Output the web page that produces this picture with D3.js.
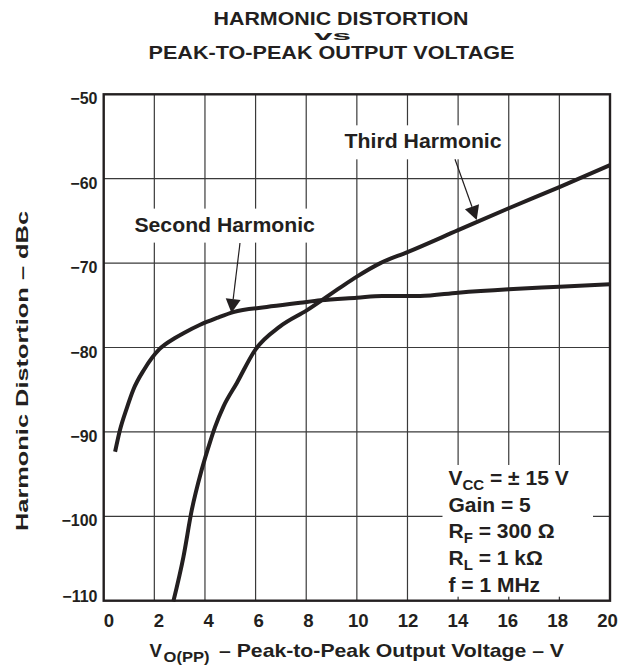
<!DOCTYPE html>
<html>
<head>
<meta charset="utf-8">
<script src="https://cdn.jsdelivr.net/npm/d3@7"></script>
<style>
  body { margin: 0; background: #fff; }
  text { font-family: "Liberation Sans", Arial, sans-serif; font-weight: bold; fill: #231f20; }
</style>
</head>
<body>
<div id="chart"></div>
<script>
// Тики осей
const xTicks = [0, 2, 4, 6, 8, 10, 12, 14, 16, 18, 20];
const yTicks = [-50, -60, -70, -80, -90, -100, -110];

// Вторая гармоника (В, дБн)
const secondVoltage = [0.45, 0.64, 0.91, 1.17, 1.6, 2.2, 2.8, 3.15, 3.81, 4.47, 5.12, 6.44, 7.76, 8.56, 10, 11, 12.5, 14, 16, 18, 20];
const secondDbc = [-92.35, -89.8, -87.2, -85.0, -82.6, -80.2, -78.9, -78.3, -77.3, -76.5, -75.8, -75.2, -74.7, -74.4, -74.1, -73.9, -73.9, -73.5, -73.1, -72.8, -72.5];

// Третья гармоника (В, дБн)
const thirdVoltage = [2.75, 3.15, 3.48, 3.87, 4.2, 4.4, 4.73, 5.26, 5.98, 6.97, 8.02, 9.34, 10.0, 10.93, 12, 14, 16, 18, 20];
const thirdDbc = [-110.1, -104.8, -99.25, -94.5, -91.2, -89.4, -87.0, -84.2, -80.3, -77.5, -75.6, -72.9, -71.6, -70.0, -68.7, -66.1, -63.5, -61.0, -58.4];

// Заголовок: строки, их левый край, базовая линия, ширина, кегль
const titleLines = ["HARMONIC DISTORTION", "vs", "PEAK-TO-PEAK OUTPUT VOLTAGE"];
const titleX = [213.5, 314, 148.5];
const titleY = [24.5, 39.8, 59.2];
const titleLen = [255, 37, 366];
const titleSize = [18.6, 12, 18.6];

// Условия измерения
const conditionLines = [
    [{ t: "V" }, { t: "CC", sub: true }, { t: " = \u00b1 15 V" }],
    [{ t: "Gain = 5" }],
    [{ t: "R" }, { t: "F", sub: true }, { t: " = 300 \u03a9" }],
    [{ t: "R" }, { t: "L", sub: true }, { t: " = 1 k\u03a9" }],
    [{ t: "f = 1 MHz" }]
];

const width = 620, height = 666;
const ink = "#231f20";

const x = d3.scaleLinear().domain([0, 20]).range([103.7, 610]);
const y = d3.scaleLinear().domain([-110, -50]).range([600.7, 94.3]);
const xLabel = d3.scaleLinear().domain([0, 20]).range([109, 607.5]);

const svg = d3.select("#chart").append("svg")
    .attr("width", width)
    .attr("height", height);

// Заголовок
svg.append("g").selectAll("text")
    .data(titleLines)
    .enter().append("text")
    .attr("x", (d, i) => titleX[i])
    .attr("y", (d, i) => titleY[i])
    .attr("font-size", (d, i) => titleSize[i])
    .attr("textLength", (d, i) => titleLen[i])
    .attr("lengthAdjust", "spacingAndGlyphs")
    .text(d => d);

// Сетка
const grid = svg.append("g").attr("stroke", "#3a3a3a").attr("stroke-width", 1.2);
grid.selectAll("line.v")
    .data(xTicks.slice(1, -1))
    .enter().append("line")
    .attr("x1", d => x(d)).attr("x2", d => x(d))
    .attr("y1", y(-50)).attr("y2", y(-110));
grid.selectAll("line.h")
    .data(yTicks.slice(1, -1))
    .enter().append("line")
    .attr("x1", x(0)).attr("x2", x(20))
    .attr("y1", d => y(d)).attr("y2", d => y(d));

const boxes = svg.append("g");
const layer = svg.append("g");

// Кривые
const line = d3.line()
    .x(d => x(d[0]))
    .y(d => y(d[1]))
    .curve(d3.curveMonotoneX);

const series = [
    d3.zip(secondVoltage, secondDbc),
    d3.zip(thirdVoltage, thirdDbc)
];

layer.selectAll("path.curve")
    .data(series)
    .enter().append("path")
    .attr("class", "curve")
    .attr("d", line)
    .attr("fill", "none")
    .attr("stroke", ink)
    .attr("stroke-width", 4)
    .attr("stroke-linejoin", "round");

// Подписи со стрелками
const callouts = [
    { text: "Second Harmonic", at: [1.213, -66.27], len: 180.5, from: [5.384, -67.62], to: [5.048, -75.91] },
    { text: "Third Harmonic", at: [9.516, -56.4], len: 157, from: [13.877, -57.7], to: [14.734, -64.89] }
];

callouts.forEach(c => {
    const t = layer.append("text")
        .attr("x", x(c.at[0])).attr("y", y(c.at[1]))
        .attr("font-size", 20.5)
        .attr("textLength", c.len).attr("lengthAdjust", "spacingAndGlyphs")
        .text(c.text);
    const b = t.node().getBBox();
    boxes.append("rect")
        .attr("x", b.x - 5).attr("y", b.y - 4)
        .attr("width", b.width + 10).attr("height", b.height + 11)
        .attr("fill", "#fff");

    const x0 = x(c.from[0]), y0 = y(c.from[1]);
    const x1 = x(c.to[0]), y1 = y(c.to[1]);
    const L = Math.hypot(x1 - x0, y1 - y0);
    const ux = (x1 - x0) / L, uy = (y1 - y0) / L;
    const head = 14, half = 7.5;
    const bx = x1 - ux * head, by = y1 - uy * head;
    layer.append("line")
        .attr("x1", x0).attr("y1", y0).attr("x2", bx).attr("y2", by)
        .attr("stroke", ink).attr("stroke-width", 1.2);
    layer.append("polygon")
        .attr("points", [[x1, y1], [bx - uy * half, by + ux * half], [bx + uy * half, by - ux * half]].join(" "))
        .attr("fill", ink);
});

// Блок условий
const cond = layer.append("g");
conditionLines.forEach((parts, i) => {
    const t = cond.append("text")
        .attr("x", x(13.62))
        .attr("y", y(-96.29) + i * 26.7)
        .attr("font-size", 21);
    parts.forEach(p => {
        t.append("tspan")
            .attr("font-size", p.sub ? 15 : 21)
            .attr("dy", p.sub ? 5 : (t.selectAll("tspan").size() > 1 ? -5 : 0))
            .text(p.t);
    });
});
const cb = cond.node().getBBox();
boxes.append("rect")
    .attr("x", cb.x - 6).attr("y", cb.y - 1)
    .attr("width", x(20) - 17 - (cb.x - 6))
    .attr("height", y(-110) - 4 - (cb.y - 1))
    .attr("fill", "#fff");

// Рамка
svg.append("rect")
    .attr("x", x(0)).attr("y", y(-50))
    .attr("width", x(20) - x(0)).attr("height", y(-110) - y(-50))
    .attr("fill", "none")
    .attr("stroke", ink)
    .attr("stroke-width", 2.4);

// Подписи тиков
svg.append("g").selectAll("text")
    .data(yTicks)
    .enter().append("text")
    .attr("x", 97.5)
    .attr("y", d => y(d) + (d === -110 ? 0.8 : 10))
    .attr("text-anchor", "end")
    .attr("font-family", "'DejaVu Sans', sans-serif")
    .attr("font-size", 16)
    .text(d => "\u2212" + Math.abs(d));

svg.append("g").selectAll("text")
    .data(xTicks)
    .enter().append("text")
    .attr("x", d => xLabel(d))
    .attr("y", 626.5)
    .attr("text-anchor", "middle")
    .attr("font-size", 18.6)
    .text(d => d);

// Подписи осей
svg.append("text")
    .attr("transform", "translate(27.5,531) rotate(-90)")
    .attr("font-size", 17)
    .attr("textLength", 320).attr("lengthAdjust", "spacingAndGlyphs")
    .text("Harmonic Distortion \u2013 dBc");

const xt = svg.append("g");
xt.append("text").attr("x", 149.5).attr("y", 656.7).attr("font-size", 18.6).text("V");
xt.append("text").attr("x", 163.5).attr("y", 661.5).attr("font-size", 15)
    .attr("textLength", 46).attr("lengthAdjust", "spacingAndGlyphs").text("O(PP)");
xt.append("text").attr("x", 219).attr("y", 656.7).attr("font-size", 18.6)
    .attr("textLength", 345).attr("lengthAdjust", "spacingAndGlyphs")
    .text("\u2013 Peak-to-Peak Output Voltage \u2013 V");
</script>
</body>
</html>
